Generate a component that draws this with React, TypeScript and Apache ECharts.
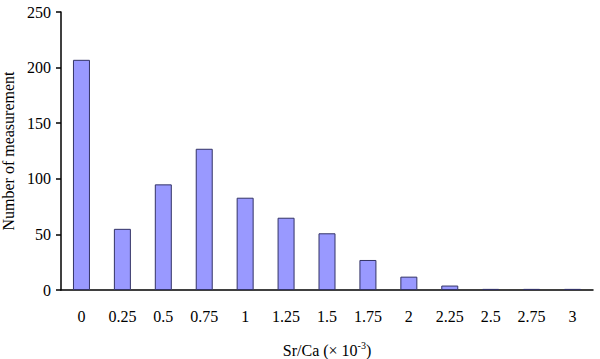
import React, { useEffect, useRef } from "react";
import * as echarts from "echarts";

const categories = ["0", "0.25", "0.5", "0.75", "1", "1.25", "1.5", "1.75", "2", "2.25", "2.5", "2.75", "3"];
const counts = [207, 55, 95, 127, 83, 65, 51, 27, 12, 4, 1, 1, 1];
const yTicks = { min: 0, max: 250, interval: 50 };

export default function App() {
  const ref = useRef<HTMLDivElement>(null);
  useEffect(() => {
    const chart = echarts.init(ref.current!, null, { renderer: "svg" });
    const font = "'Liberation Serif', 'Times New Roman', serif";
    chart.setOption({
      animation: false,
      textStyle: { fontFamily: font },
      grid: { left: 61, right: 7, top: 12, bottom: 69, containLabel: false, outerBoundsMode: "none" },
      xAxis: {
        type: "category",
        data: categories,
        name: "{n|Sr/Ca (× 10}{s|-3}{n|)}",
        nameLocation: "middle",
        nameGap: 50,
        nameTextStyle: {
          rich: {
            n: { fontFamily: font, fontSize: 16, color: "#000", verticalAlign: "bottom", lineHeight: 18 },
            s: { fontFamily: font, fontSize: 10, color: "#000", verticalAlign: "top", lineHeight: 18, padding: [0, 0, 8, 0] },
          },
        },
        axisLine: { lineStyle: { color: "#000", width: 1.5 } },
        axisTick: { inside: true, length: 5, lineStyle: { color: "#000", width: 1.5 } },
        axisLabel: { color: "#000", fontSize: 16, fontFamily: font, margin: 18 },
      },
      yAxis: {
        type: "value",
        min: yTicks.min,
        max: yTicks.max,
        interval: yTicks.interval,
        name: "Number of measurement",
        nameLocation: "middle",
        nameGap: 44,
        nameTextStyle: { color: "#000", fontSize: 16, fontFamily: font },
        splitLine: { show: false },
        axisLine: { show: true, lineStyle: { color: "#000", width: 1.5 } },
        axisTick: { show: true, length: 5, lineStyle: { color: "#000", width: 1.5 } },
        axisLabel: { color: "#000", fontSize: 16, fontFamily: font, margin: 10 },
      },
      series: [
        {
          type: "bar",
          data: counts,
          barWidth: 17,
          itemStyle: { color: "#9999FF", borderColor: "#333366", borderWidth: 1 },
        },
      ],
    });
    return () => chart.dispose();
  }, []);
  return <div ref={ref} style={{ width: 600, height: 359, position: "absolute", left: 0, top: 0 }} />;
}
